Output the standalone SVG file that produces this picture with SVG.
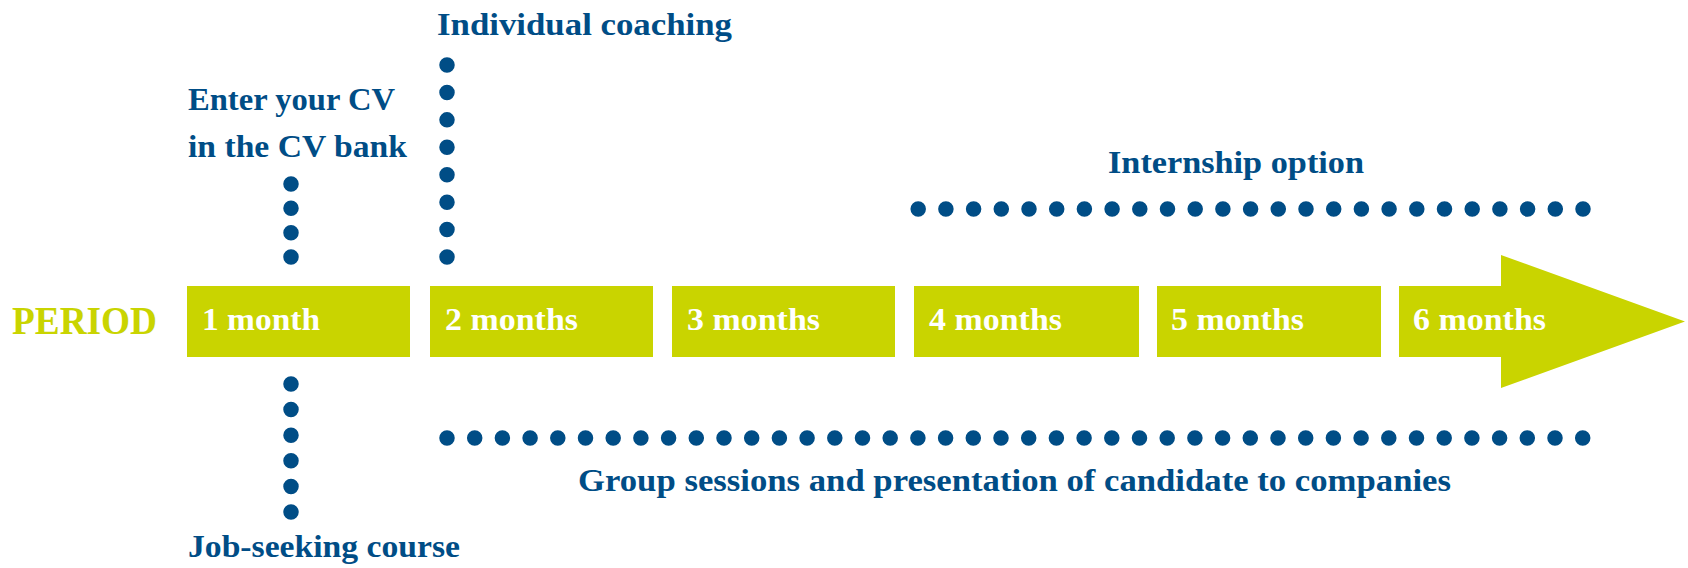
<svg xmlns="http://www.w3.org/2000/svg" width="1688" height="568" viewBox="0 0 1688 568">
<style>
.box{fill:#C9D400}
.lbl{font-family:"Liberation Serif",serif;font-weight:bold;font-size:32px;fill:#ffffff}
.txt{font-family:"Liberation Serif",serif;font-weight:bold;font-size:32px;fill:#004D86}
.per{font-family:"Liberation Serif",serif;font-weight:bold;font-size:39px;fill:#C9D400}
.dots{fill:none;stroke:#004D86;stroke-width:15.5;stroke-linecap:round}
</style>
<rect width="1688" height="568" fill="#ffffff"/>
<g id="period"><text class="per" x="12" y="334" textLength="145" lengthAdjust="spacingAndGlyphs">PERIOD</text></g>
<g id="m1"><rect class="box" x="187" y="286" width="223" height="71"/><text class="lbl" x="202" y="330" textLength="118" lengthAdjust="spacingAndGlyphs">1 month</text></g>
<g id="m2"><rect class="box" x="430" y="286" width="223" height="71"/><text class="lbl" x="445" y="330" textLength="133" lengthAdjust="spacingAndGlyphs">2 months</text></g>
<g id="m3"><rect class="box" x="672" y="286" width="223" height="71"/><text class="lbl" x="687" y="330" textLength="133" lengthAdjust="spacingAndGlyphs">3 months</text></g>
<g id="m4"><rect class="box" x="914" y="286" width="225" height="71"/><text class="lbl" x="929" y="330" textLength="133" lengthAdjust="spacingAndGlyphs">4 months</text></g>
<g id="m5"><rect class="box" x="1157" y="286" width="224" height="71"/><text class="lbl" x="1171" y="330" textLength="133" lengthAdjust="spacingAndGlyphs">5 months</text></g>
<g id="m6"><polygon class="box" points="1399,286 1501,286 1501,255 1685,321.5 1501,388 1501,357 1399,357"/><text class="lbl" x="1413" y="330" textLength="133" lengthAdjust="spacingAndGlyphs">6 months</text></g>
<g id="cv"><text class="txt" x="188" y="110" textLength="207" lengthAdjust="spacingAndGlyphs">Enter your CV</text><text class="txt" x="188" y="157" textLength="219" lengthAdjust="spacingAndGlyphs">in the CV bank</text></g>
<g id="coaching"><text class="txt" x="437" y="35" textLength="295" lengthAdjust="spacingAndGlyphs">Individual coaching</text></g>
<g id="course"><text class="txt" x="188" y="557" textLength="272" lengthAdjust="spacingAndGlyphs">Job-seeking course</text></g>
<g id="internship"><text class="txt" x="1108" y="173" textLength="256" lengthAdjust="spacingAndGlyphs">Internship option</text></g>
<g id="group"><text class="txt" x="578" y="491" textLength="873" lengthAdjust="spacingAndGlyphs">Group sessions and presentation of candidate to companies</text></g>
<g id="connectors">
<path class="dots" d="M291 184 V258" stroke-dasharray="0 24.33"/>
<path class="dots" d="M447 65 V258" stroke-dasharray="0 27.43"/>
<path class="dots" d="M291 384 V513" stroke-dasharray="0 25.6"/>
<path class="dots" d="M918.2 209 H1584" stroke-dasharray="0 27.7"/>
<path class="dots" d="M447 438 H1584" stroke-dasharray="0 27.7"/>
</g>
</svg>
